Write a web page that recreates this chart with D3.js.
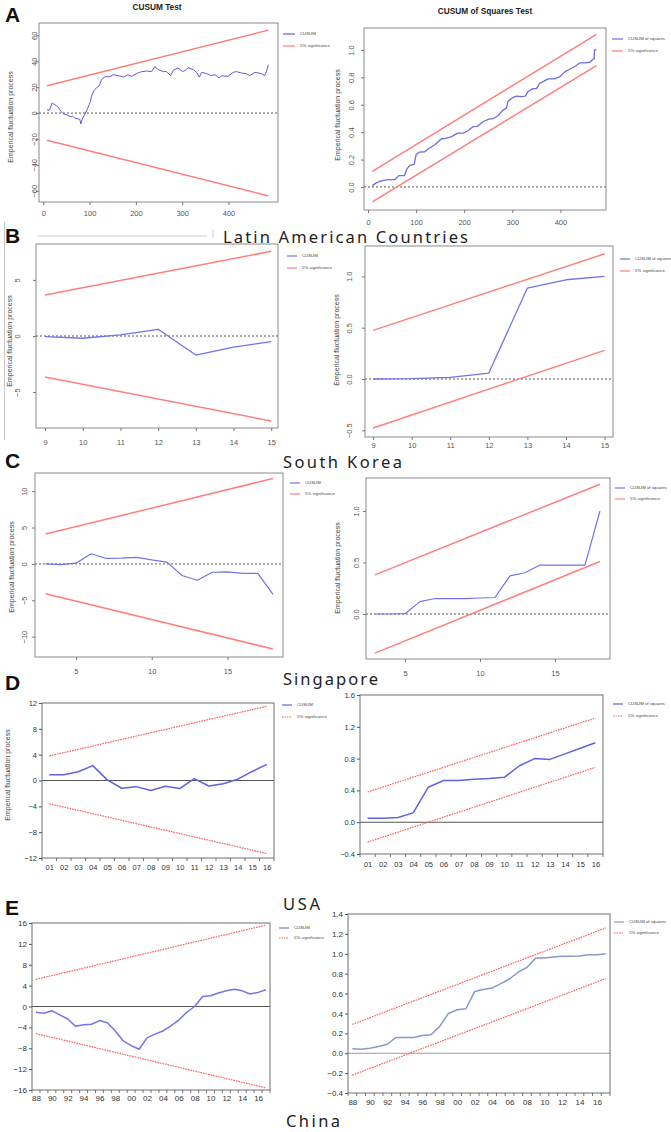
<!DOCTYPE html>
<html>
<head>
<meta charset="utf-8">
<script src="https://cdn.jsdelivr.net/npm/d3@7"></script>
<style>
  body { margin: 0; background: #fff; }
  svg { display: block; }
</style>
</head>
<body>
<script>
// ---- A: Latin American Countries (R strucchange plots) ----
const aCusumX = [8,13,19,25,32,38,43,50,60,63,68,76,79,81,85,90,95,99,102,104,109,115,121,126,133,144,151,162,173,183,191,201,212,223,234,241,248,259,266,275,281,291,301,309,313,324,331,337,342,353,363,371,380,385,399,410,417,428,439,446,457,471,478,482,486];
const aCusumY = [2.6,2,7.7,6.4,4.6,1.3,-0.5,-1.3,-3,-2.3,-3.9,-4.6,-5,-8.5,-3.9,-0.8,3,6.4,9,13,17,19.6,21,26,28,28,29.6,28.8,27.8,29.6,28.3,30.4,31.9,32.4,32,36,33.5,32,32,28.8,33,34.8,32,33.5,35,33.5,31.4,27.8,31.4,30.4,28.8,29.6,27,28.8,28.3,31.4,32,30.9,30.4,28.8,31.4,30.4,28.8,32,37.3];
const aCusumUpper = [[8, 21], [486, 64]];
const aCusumLower = [[8, -21], [486, -64]];

const aSqX = [9,17,24,31,42,55,59,64,76,80,87,96,100,107,118,125,139,152,161,173,186,198,208,218,227,239,251,260,270,281,288,291,299,308,319,327,333,343,350,357,366,374,388,398,409,419,430,440,450,461,466,470,471,475];
const aSqY = [0.01,0.03,0.04,0.046,0.053,0.053,0.066,0.083,0.083,0.126,0.158,0.165,0.235,0.255,0.257,0.277,0.308,0.35,0.354,0.366,0.393,0.393,0.41,0.44,0.442,0.476,0.495,0.498,0.52,0.563,0.575,0.624,0.648,0.663,0.66,0.663,0.697,0.718,0.718,0.757,0.772,0.789,0.789,0.803,0.84,0.859,0.879,0.905,0.905,0.91,0.927,0.934,1.0,1.0];
const aSqUpper = [[9, 0.114], [475, 1.114]];
const aSqLower = [[9, -0.109], [475, 0.886]];

// ---- B: South Korea ----
const bX = [9,10,11,12,13,14,15];
const bCusum = [-0.05,-0.2,0.1,0.6,-1.7,-1.0,-0.5];
const bCusumUpper = [[9, 3.65], [15, 7.55]];
const bCusumLower = [[9, -3.65], [15, -7.58]];
const bSq = [0,0.003,0.016,0.058,0.886,0.967,1.0];
const bSqUpper = [[9, 0.474], [15, 1.22]];
const bSqLower = [[9, -0.477], [15, 0.279]];

// ---- C: Singapore ----
const cX = [3,4,5,6,7,8,9,10,11,12,13,14,15,16,17,18];
const cCusum = [0,-0.1,0.1,1.4,0.75,0.8,0.9,0.55,0.25,-1.6,-2.25,-1.15,-1.1,-1.3,-1.3,-4.2];
const cCusumUpper = [[3, 4.1], [18, 11.75]];
const cCusumLower = [[3, -4.1], [18, -11.7]];
const cSq = [0,0,0.003,0.12,0.15,0.15,0.15,0.155,0.16,0.37,0.40,0.475,0.475,0.475,0.475,1.0];
const cSqUpper = [[3, 0.38], [18, 1.26]];
const cSqLower = [[3, -0.38], [18, 0.51]];

// ---- D: USA (EViews) ----
const dX = [1,2,3,4,5,6,7,8,9,10,11,12,13,14,15,16];
const dCusum = [0.9,0.9,1.35,2.3,0.1,-1.2,-0.95,-1.55,-0.9,-1.25,0.3,-0.85,-0.5,0.2,1.4,2.5];
const dCusumUpper = [[1, 3.8], [16, 11.5]];
const dCusumLower = [[1, -3.6], [16, -11.3]];
const dSq = [0.05,0.05,0.06,0.117,0.44,0.525,0.525,0.54,0.55,0.565,0.71,0.8,0.79,0.86,0.93,1.0];
const dSqUpper = [[1, 0.38], [16, 1.31]];
const dSqLower = [[1, -0.25], [16, 0.69]];

// ---- E: China (EViews) ----
const eYears = d3.range(1988, 2018);
const eCusum = [-1.1,-1.3,-0.8,-1.6,-2.4,-3.8,-3.5,-3.4,-2.7,-3.1,-4.7,-6.6,-7.5,-8.2,-6.0,-5.3,-4.7,-3.7,-2.6,-1.1,0,1.9,2.05,2.6,3.0,3.3,3.0,2.4,2.7,3.2];
const eCusumUpper = [[1988, 5.2], [2017, 15.6]];
const eCusumLower = [[1988, -5.2], [2017, -15.6]];
const eSq = [0.044,0.04,0.05,0.067,0.09,0.158,0.158,0.158,0.178,0.185,0.27,0.40,0.437,0.447,0.62,0.64,0.655,0.70,0.746,0.817,0.864,0.958,0.958,0.968,0.975,0.975,0.978,0.99,0.99,1.0];
const eSqUpper = [[1988, 0.29], [2017, 1.26]];
const eSqLower = [[1988, -0.22], [2017, 0.75]];

const cusumLabels = ["CUSUM", "5% significance"];
const sqLabels = ["CUSUM of squares", "5% significance"];
const yAxisTitle = "Emperical fluctuation process";

const zip = (a, b) => a.map((v, i) => [v, b[i]]);

let svg = d3.select("body").append("svg")
  .attr("width", 671).attr("height", 1132)
  .style("font-family", "'Liberation Sans', Arial, sans-serif");

// faint frame fragments from the original figure
svg.append("line").attr("x1", 4.5).attr("x2", 4.5).attr("y1", 222).attr("y2", 440)
  .attr("stroke", "#c8c8c8").attr("stroke-width", 1);
svg.append("line").attr("x1", 37).attr("x2", 207).attr("y1", 236).attr("y2", 236)
  .attr("stroke", "#d0d0d0").attr("stroke-width", 1);
svg.append("line").attr("x1", 213).attr("x2", 213).attr("y1", 229).attr("y2", 238)
  .attr("stroke", "#d0d0d0").attr("stroke-width", 1);

let drawLegend = (g, lx, ys, labels, lineLen, colors, dashed) => {
  labels.forEach((lab, i) => {
    g.append("line")
      .attr("x1", lx).attr("x2", lx + lineLen)
      .attr("y1", ys[i]).attr("y2", ys[i])
      .attr("stroke", colors[i]).attr("stroke-width", 1.2)
      .attr("stroke-dasharray", dashed && i == 1 ? "1.5,1" : null);
    g.append("text")
      .attr("x", lx + lineLen + 5).attr("y", ys[i] + 1.4)
      .attr("font-size", "4.3px").attr("fill", "#444")
      .text(lab);
  });
};

let yTitle = (g, x, y) => {
  g.append("text")
    .attr("transform", `translate(${x},${y}) rotate(-90)`)
    .attr("text-anchor", "middle").attr("dy", "0.35em")
    .attr("font-size", "7px").attr("fill", "#444")
    .text(yAxisTitle);
};

// R style panel (boxed plot, dotted zero line, rotated y labels)
let rPanel = (p) => {
  let g = svg.append("g");
  let x = d3.scaleLinear().domain(p.xDom).range([p.l, p.r]);
  let y = d3.scaleLinear().domain(p.yDom).range([p.b, p.t]);
  let ln = d3.line().x(d => x(d[0])).y(d => y(d[1]));
  let fs = 7.5;

  g.append("line")
    .attr("x1", p.l).attr("x2", p.r).attr("y1", y(0)).attr("y2", y(0))
    .attr("stroke", "#444").attr("stroke-width", 0.9).attr("stroke-dasharray", "2,2");
  [p.upper, p.lower].forEach(d => {
    g.append("path").attr("d", ln(d)).attr("fill", "none")
      .attr("stroke", "#ff7f7f").attr("stroke-width", 1.5);
  });
  g.append("path").attr("d", ln(p.series)).attr("fill", "none")
    .attr("stroke", p.color || "#6262e6").attr("stroke-width", p.lw || 1.1)
    .attr("stroke-linejoin", "round");
  g.append("rect")
    .attr("x", p.l).attr("y", p.t).attr("width", p.r - p.l).attr("height", p.b - p.t)
    .attr("fill", "none").attr("stroke", "#8a8a8a").attr("stroke-width", 1);

  let xa = g.append("g").attr("transform", `translate(0,${p.b})`)
    .call(d3.axisBottom(x).tickValues(p.xTicks).tickFormat(d3.format("d")).tickSize(3)
      .tickPadding(p.xOff - 0.36 * fs - 3));
  let ya = g.append("g").attr("transform", `translate(${p.l},0)`)
    .call(d3.axisLeft(y).tickValues(p.yTicks).tickFormat(p.yFmt).tickSize(3));
  ya.selectAll("text")
    .attr("x", 0).attr("dy", 0).attr("text-anchor", "middle")
    .attr("transform", `translate(${-p.yOff + 0.36 * fs},0) rotate(-90)`);
  [xa, ya].forEach(a => {
    a.attr("font-family", null).attr("font-size", null);
    a.select(".domain").remove();
    a.selectAll("line").attr("stroke", "#777");
    a.selectAll("text").attr("fill", "#555").style("font-size", fs + "px");
  });

  drawLegend(g, p.legX, p.legY, p.labels, p.legLen || 11, [p.color || "#6262e6", "#ff7f7f"], false);
  if (p.ytitle) yTitle(g, p.ytitle[0], p.ytitle[1]);
};

// EViews style panel (solid zero line, dashed bounds, horizontal labels)
let evPanel = (p) => {
  let g = svg.append("g");
  let x = d3.scalePoint().domain(p.cats).range([p.l, p.r]).padding(0.5);
  let y = d3.scaleLinear().domain(p.yDom).range([p.b, p.t]);
  let ln = d3.line().x(d => x(d[0])).y(d => y(d[1]));
  let fs = p.fs;

  g.append("line")
    .attr("x1", p.l).attr("x2", p.r).attr("y1", y(0)).attr("y2", y(0))
    .attr("stroke", p.zeroColor).attr("stroke-width", 1.1);
  [p.upper, p.lower].forEach(d => {
    g.append("path").attr("d", ln(d)).attr("fill", "none")
      .attr("stroke", "#ff5c5c").attr("stroke-width", 1.2).attr("stroke-dasharray", "1.6,1");
  });
  g.append("path").attr("d", ln(p.series)).attr("fill", "none")
    .attr("stroke", p.color).attr("stroke-width", 1.5).attr("stroke-linejoin", "round");
  g.append("rect")
    .attr("x", p.l).attr("y", p.t).attr("width", p.r - p.l).attr("height", p.b - p.t)
    .attr("fill", "none").attr("stroke", "#6e6e6e").attr("stroke-width", 1);

  // ticks between observations
  let st = x.step();
  let edges = p.cats.map(c => x(c) - st / 2).concat([x(p.cats[p.cats.length - 1]) + st / 2]);
  g.append("g").selectAll("line").data(edges).enter().append("line")
    .attr("x1", d => d).attr("x2", d => d)
    .attr("y1", p.b).attr("y2", p.b + 3)
    .attr("stroke", "#555").attr("stroke-width", 0.8);

  let xa = g.append("g").attr("transform", `translate(0,${p.b})`)
    .call(d3.axisBottom(x).tickValues(p.xLabels).tickFormat(p.xFmt).tickSize(0)
      .tickPadding(p.xOff - 0.36 * fs));
  let ya = g.append("g").attr("transform", `translate(${p.l},0)`)
    .call(d3.axisLeft(y).tickValues(p.yTicks).tickFormat(p.yFmt).tickSize(3).tickPadding(2));
  [xa, ya].forEach(a => {
    a.attr("font-family", null).attr("font-size", null);
    a.select(".domain").remove();
    a.selectAll("line").attr("stroke", "#555");
    a.selectAll("text").attr("fill", "#333").style("font-size", fs + "px");
  });

  drawLegend(g, p.legX, p.legY, p.labels, 10, [p.color, "#ff5c5c"], true);
  if (p.ytitle) yTitle(g, p.ytitle[0], p.ytitle[1]);
};

// ---- Panels ----
rPanel({
  l: 39, r: 278, t: 23, b: 202, xDom: [-9.3, 507], yDom: [-68.7, 69.5],
  xTicks: [0, 100, 200, 300, 400], yTicks: [-60, -40, -20, 0, 20, 40, 60], yFmt: d3.format("d"),
  xOff: 11, yOff: 5, series: zip(aCusumX, aCusumY), upper: aCusumUpper, lower: aCusumLower,
  legX: 283, legY: [34, 46], legLen: 12, labels: cusumLabels, ytitle: [11, 117], color: "#5c5ce0", lw: 1
});
rPanel({
  l: 364, r: 606, t: 28, b: 210, xDom: [-8.3, 494.8], yDom: [-0.168, 1.16],
  xTicks: [0, 100, 200, 300, 400], yTicks: [0, 0.2, 0.4, 0.6, 0.8, 1.0], yFmt: d3.format(".1f"),
  xOff: 12, yOff: 13, series: zip(aSqX, aSqY), upper: aSqUpper, lower: aSqLower,
  legX: 612, legY: [39, 51], legLen: 11, labels: sqLabels, ytitle: [338, 115], color: "#6c6ce4", lw: 1.3
});
rPanel({
  l: 36, r: 278, t: 244, b: 428, xDom: [8.76, 15.18], yDom: [-8.2, 8.2],
  xTicks: d3.range(9, 16), yTicks: [-5, 0, 5], yFmt: d3.format("d"),
  xOff: 14, yOff: 19, series: zip(bX, bCusum), upper: bCusumUpper, lower: bCusumLower,
  legX: 287, legY: [256, 268], legLen: 10, labels: cusumLabels, ytitle: [10, 341], color: "#7272ec", lw: 1.3
});
rPanel({
  l: 365, r: 613, t: 246, b: 437, xDom: [8.79, 15.22], yDom: [-0.565, 1.296],
  xTicks: d3.range(9, 16), yTicks: [-0.5, 0, 0.5, 1.0], yFmt: d3.format(".1f"),
  xOff: 8, yOff: 15.5, series: zip(bX, bSq), upper: bSqUpper, lower: bSqLower,
  legX: 620, legY: [259, 271], legLen: 10, labels: sqLabels, ytitle: [337, 340], color: "#7272ec", lw: 1.3
});
rPanel({
  l: 35, r: 283, t: 473, b: 657, xDom: [2.3, 18.66], yDom: [-12.8, 12.5],
  xTicks: [5, 10, 15], yTicks: [-10, -5, 0, 5, 10], yFmt: d3.format("d"),
  xOff: 14, yOff: 10.5, series: zip(cX, cCusum), upper: cCusumUpper, lower: cCusumLower,
  legX: 290, legY: [483, 494], legLen: 10, labels: cusumLabels, ytitle: [12, 567], color: "#7272ec", lw: 1.2
});
rPanel({
  l: 366, r: 610, t: 478, b: 659, xDom: [2.4, 18.67], yDom: [-0.437, 1.32],
  xTicks: [5, 10, 15], yTicks: [0, 0.5, 1.0], yFmt: d3.format(".1f"),
  xOff: 14, yOff: 10, series: zip(cX, cSq), upper: cSqUpper, lower: cSqLower,
  legX: 615, legY: [488, 499], legLen: 10, labels: sqLabels, ytitle: [338, 568], color: "#7272ec", lw: 1.2
});

evPanel({
  l: 42, r: 274, t: 703, b: 858, cats: dX, yDom: [-12, 12], yTicks: d3.range(-12, 13, 4), yFmt: d3.format("d"),
  xLabels: dX, xFmt: d3.format("02d"), xOff: 9.5, fs: 7.5,
  series: zip(dX, dCusum), upper: dCusumUpper, lower: dCusumLower,
  zeroColor: "#555", color: "#6060e8", legX: 282, legY: [705, 717], labels: cusumLabels, ytitle: [8, 775]
});
evPanel({
  l: 360, r: 603, t: 695, b: 854, cats: dX, yDom: [-0.4, 1.6], yTicks: [-0.4, 0, 0.4, 0.8, 1.2, 1.6], yFmt: d3.format(".1f"),
  xLabels: dX, xFmt: d3.format("02d"), xOff: 10, fs: 7.5,
  series: zip(dX, dSq), upper: dSqUpper, lower: dSqLower,
  zeroColor: "#555", color: "#6060e8", legX: 613, legY: [704, 716], labels: sqLabels
});
evPanel({
  l: 32, r: 270, t: 923, b: 1090, cats: eYears, yDom: [-16, 16], yTicks: d3.range(-16, 17, 4), yFmt: d3.format("d"),
  xLabels: eYears.filter(v => v % 2 == 0), xFmt: v => String(v % 100).padStart(2, "0"), xOff: 8.5, fs: 8,
  series: zip(eYears, eCusum), upper: eCusumUpper, lower: eCusumLower,
  zeroColor: "#555", color: "#7474e6", legX: 279, legY: [928, 938], labels: cusumLabels
});
evPanel({
  l: 348, r: 610, t: 914, b: 1093, cats: eYears, yDom: [-0.4, 1.4], yTicks: d3.range(-4, 15, 2).map(v => v / 10), yFmt: d3.format(".1f"),
  xLabels: eYears.filter(v => v % 2 == 0), xFmt: v => String(v % 100).padStart(2, "0"), xOff: 9, fs: 8,
  series: zip(eYears, eSq), upper: eSqUpper, lower: eSqLower,
  zeroColor: "#9a9a9a", color: "#8898cc", legX: 614, legY: [922, 933], labels: sqLabels
});

// ---- titles, panel letters, country names ----
svg.append("text").attr("x", 157).attr("y", 9.5).attr("text-anchor", "middle")
  .attr("font-size", "8.3px").attr("font-weight", "bold").attr("fill", "#222").text("CUSUM Test");
svg.append("text").attr("x", 485).attr("y", 14).attr("text-anchor", "middle")
  .attr("font-size", "8.3px").attr("font-weight", "bold").attr("fill", "#222").text("CUSUM of Squares Test");

const panelLetters = ["A", "B", "C", "D", "E"];
const letterY = [22, 243, 468, 690, 915];
panelLetters.forEach((t, i) => {
  svg.append("text").attr("x", 5).attr("y", letterY[i])
    .attr("font-size", "21px").attr("font-weight", "bold").attr("fill", "#111").text(t);
});

const countries = ["Latin American Countries", "South Korea", "Singapore", "USA", "China"];
const countryX = [223, 283, 283, 283, 286];
const countryY = [243, 467.5, 685, 910, 1127];
const countryW = [245, 119, 95, 37, 54];
countries.forEach((t, i) => {
  svg.append("text").attr("x", countryX[i]).attr("y", countryY[i])
    .attr("font-family", "'Noto Sans', 'Open Sans', sans-serif")
    .attr("font-size", "16.5px").attr("fill", "#222")
    .attr("textLength", countryW[i]).attr("lengthAdjust", "spacing")
    .text(t);
});
</script>
</body>
</html>
